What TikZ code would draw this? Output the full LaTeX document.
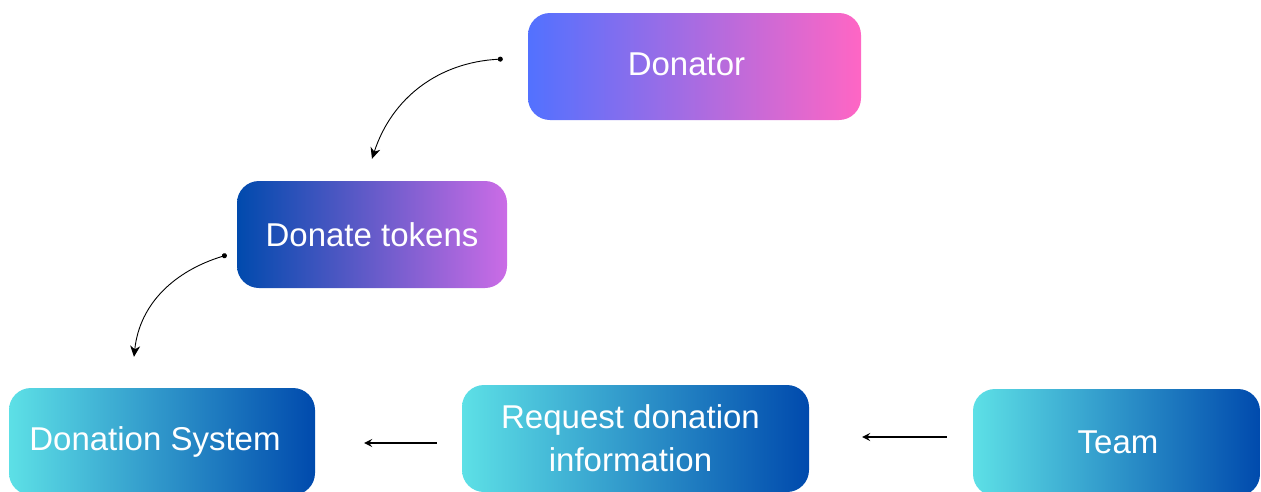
\documentclass[tikz,border=0pt]{standalone}
\usepackage{fontspec}
\setmainfont{Liberation Sans}
\usetikzlibrary{arrows.meta}

\definecolor{cBlue}{HTML}{5271FF}
\definecolor{cPink}{HTML}{FF66C4}
\definecolor{cNavy}{HTML}{004AAD}
\definecolor{cViolet}{HTML}{CB6CE6}
\definecolor{cCyan}{HTML}{5DE0E6}

% nudge a label inside its box: \Nudge{dx}{dy}{text}
\newcommand{\Nudge}[3]{\hspace*{#1}\raisebox{#2}{#3}}

\begin{document}
\begin{tikzpicture}[x=1pt, y=-1pt]
\useasboundingbox (0,0) rectangle (1261,491);
\clip (0,0) rectangle (1261,491);

\tikzset{BoxStyle/.style = {
 shape = rectangle,
 rounded corners = 22pt,
 shading = axis,
 text = white,
 inner sep = 0pt,
 align = center,
 font = \fontsize{33}{43}\selectfont} }

\node[BoxStyle, minimum width=333pt, minimum height=107pt,
  left color=cBlue, right color=cPink] (donator) at (694.5, 66.5) {\Nudge{-16pt}{4pt}{Donator}};
\node[BoxStyle, minimum width=270pt, minimum height=107pt,
  left color=cNavy, right color=cViolet] (tokens) at (372, 234.5) {Donate tokens};
\node[BoxStyle, minimum width=306pt, minimum height=107pt,
  left color=cCyan, right color=cNavy] (dsys) at (162, 441.5) {\Nudge{-14pt}{3pt}{Donation System}};
\node[BoxStyle, minimum width=347pt, minimum height=107pt,
  left color=cCyan, right color=cNavy] (request) at (635.5, 438.5)
  {\hspace*{-10pt}Request donation\\\hspace*{-10pt}information};
\node[BoxStyle, minimum width=287pt, minimum height=107pt,
  left color=cCyan, right color=cNavy] (team) at (1116.5, 442.5) {\Nudge{3pt}{-1.5pt}{Team}};


% loose ends of the connectors
\coordinate (A1_1) at ([shift={(-25,-7.5)}]donator.west);
\coordinate (A1_2) at ([shift={(0,-22)}]tokens.north);
\coordinate (A2_1) at ([shift={(-10,20.5)}]tokens.west);
\coordinate (A2_2) at ([shift={(-28,-31)}]dsys.north);
\coordinate (A3_1) at ([shift={(-25,4.5)}]request.west);
\coordinate (A3_2) at ([shift={(49,1.5)}]dsys.east);
\coordinate (A4_1) at ([shift={(-26,-5.5)}]team.west);
\coordinate (A4_2) at ([shift={(53,-1.5)}]request.east);


\tikzset{CurveStyle/.style = {line width=0.9pt,
 {Circle[length=5pt]}-{Stealth[length=11pt, width=10pt, inset=3.5pt]}} }
\tikzset{LineStyle/.style = {line width=1.6pt,
 -{Stealth[length=8pt, width=8pt, inset=3pt]}} }

\draw[CurveStyle] (A1_1) to[out=183, in=72] (A1_2);
\draw[CurveStyle] (A2_1) to[out=197, in=84] (A2_2);
\draw[LineStyle] (A3_1) -- (A3_2);
\draw[LineStyle] (A4_1) -- (A4_2);

\end{tikzpicture}
\end{document}
